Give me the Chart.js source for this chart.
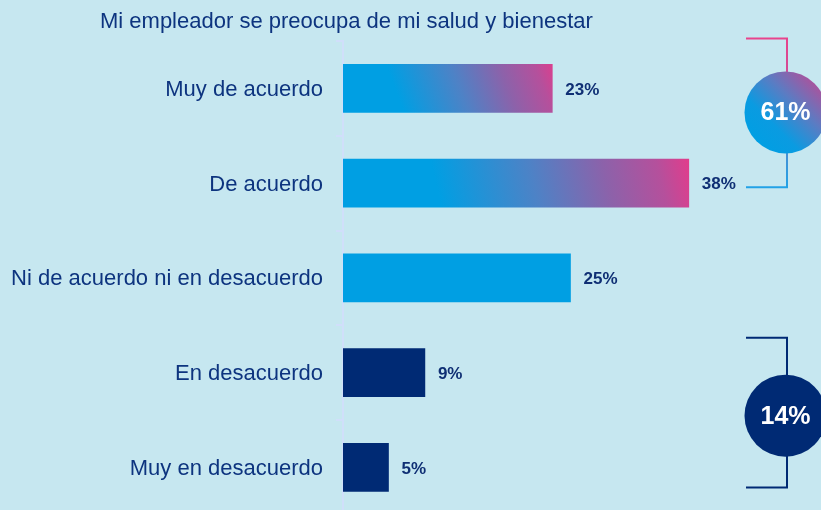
<!DOCTYPE html>
<html><head><meta charset="utf-8">
<script src="https://cdn.jsdelivr.net/npm/chart.js@4/dist/chart.umd.min.js"></script>
<style>
html,body{margin:0;padding:0;background:#c6e7f0;overflow:hidden;width:821px;height:510px;}
#c{position:absolute;left:0;top:0;display:block;}
#title{position:absolute;left:100px;top:10px;font:22px "Liberation Sans",Arial,sans-serif;color:#0d347f;line-height:22px;white-space:nowrap;}
</style></head><body>
<canvas id="c" width="821" height="541" style="width:821px;height:541px;"></canvas>
<div id="title">Mi empleador se preocupa de mi salud y bienestar</div>
<script>
const categories = ['Muy de acuerdo','De acuerdo','Ni de acuerdo ni en desacuerdo','En desacuerdo','Muy en desacuerdo'];
const values = [23, 38, 25, 9, 5];
const barKinds = ['gradient','gradient','blue','navy','navy'];
const agreeGroup = [0, 1];
const disagreeGroup = [3, 4];
const xMin = 0, xMax = 50;

const FONT = "'Liberation Sans', Arial, sans-serif";
const NAVY = '#002a74';
const BLUE = '#009fe3';
const TEXT = '#0d347f';
const AXIS = '#d0dffa';

function barColor(ctx){
  const kind = barKinds[ctx.dataIndex];
  if (kind === 'navy') return NAVY;
  if (kind === 'blue') return BLUE;
  const chart = ctx.chart;
  if (!chart.chartArea) return BLUE;
  const xs = chart.scales.x, ys = chart.scales.y;
  const x0 = xs.getPixelForValue(0), x1 = xs.getPixelForValue(values[ctx.dataIndex]);
  const yc = ys.getPixelForValue(ctx.dataIndex);
  const g = chart.ctx.createLinearGradient(x0, yc + 40, x1, yc - 40);
  g.addColorStop(0, BLUE);
  g.addColorStop(0.28, BLUE);
  g.addColorStop(0.55, '#4e82c6');
  g.addColorStop(0.75, '#8c62aa');
  g.addColorStop(0.9, '#b5509c');
  g.addColorStop(1, '#e63a8a');
  return g;
}

const valueLabels = {
  id: 'valueLabels',
  afterDatasetsDraw(chart){
    const c = chart.ctx;
    const meta = chart.getDatasetMeta(0);
    c.save();
    c.font = 'bold 17px ' + FONT;
    c.fillStyle = '#0f2f74';
    c.textAlign = 'left';
    c.textBaseline = 'middle';
    meta.data.forEach((el, i) => {
      c.fillText(values[i] + '%', el.x + 13, el.y + 1.5);
    });
    c.restore();
  }
};

const brackets = {
  id: 'brackets',
  afterDraw(chart){
    const c = chart.ctx;
    const meta = chart.getDatasetMeta(0);
    const xL = 746, xR = 787, cx = 785.5, r = 41;
    const sum = idx => idx.reduce((a, i) => a + values[i], 0);

    // agree bracket
    let yT = meta.data[agreeGroup[0]].y - 50;
    let yB = meta.data[agreeGroup[1]].y + 4;
    let cy = meta.data[agreeGroup[0]].y + 24;
    c.save();
    let lg = c.createLinearGradient(0, yT, 0, yB);
    lg.addColorStop(0, '#e8438c');
    lg.addColorStop(0.35, '#c4509c');
    lg.addColorStop(0.65, '#5b88cc');
    lg.addColorStop(1, '#22a2e6');
    c.strokeStyle = lg;
    c.lineWidth = 2;
    c.beginPath();
    c.moveTo(xL, yT); c.lineTo(xR, yT); c.lineTo(xR, yB); c.lineTo(xL, yB);
    c.stroke();
    let cg = c.createLinearGradient(cx - r*0.75, cy + r*0.75, cx + r*0.75, cy - r*0.75);
    cg.addColorStop(0, '#009fe3');
    cg.addColorStop(0.3, '#0a9be1');
    cg.addColorStop(0.65, '#5b7cc3');
    cg.addColorStop(1, '#ac529c');
    c.fillStyle = cg;
    c.beginPath(); c.arc(cx, cy, r, 0, Math.PI*2); c.fill();
    c.fillStyle = '#ffffff';
    c.font = 'bold 25px ' + FONT;
    c.textAlign = 'center'; c.textBaseline = 'middle';
    c.fillText(sum(agreeGroup) + '%', cx, cy + 1);

    // disagree bracket
    yT = meta.data[disagreeGroup[0]].y - 35;
    yB = meta.data[disagreeGroup[1]].y + 20;
    cy = meta.data[disagreeGroup[0]].y + 43;
    c.strokeStyle = NAVY;
    c.beginPath();
    c.moveTo(xL, yT); c.lineTo(xR, yT); c.lineTo(xR, yB); c.lineTo(xL, yB);
    c.stroke();
    c.fillStyle = NAVY;
    c.beginPath(); c.arc(cx, cy, r, 0, Math.PI*2); c.fill();
    c.fillStyle = '#ffffff';
    c.fillText(sum(disagreeGroup) + '%', cx, cy + 1);
    c.restore();
  }
};

new Chart(document.getElementById('c'), {
  type: 'bar',
  data: {
    labels: categories,
    datasets: [{
      data: values,
      backgroundColor: barColor,
      borderWidth: 0,
      barThickness: 48
    }]
  },
  options: {
    indexAxis: 'y',
    responsive: false,
    maintainAspectRatio: false,
    devicePixelRatio: 1,
    animation: false,
    layout: { padding: { top: 41, bottom: 0, left: 0, right: 23 } },
    plugins: { legend: { display: false }, tooltip: { enabled: false }, title: { display: false } },
    scales: {
      x: { display: false, min: xMin, max: xMax },
      y: {
        afterFit(s){ s.width = 343; },
        grid: { display: true, drawOnChartArea: false, tickLength: 7, color: AXIS, lineWidth: 2 },
        border: { display: true, color: AXIS, width: 2 },
        ticks: { color: TEXT, font: { size: 22, family: FONT }, padding: 13, labelOffset: 1.5 }
      }
    }
  },
  plugins: [valueLabels, brackets]
});
</script>
</body></html>
